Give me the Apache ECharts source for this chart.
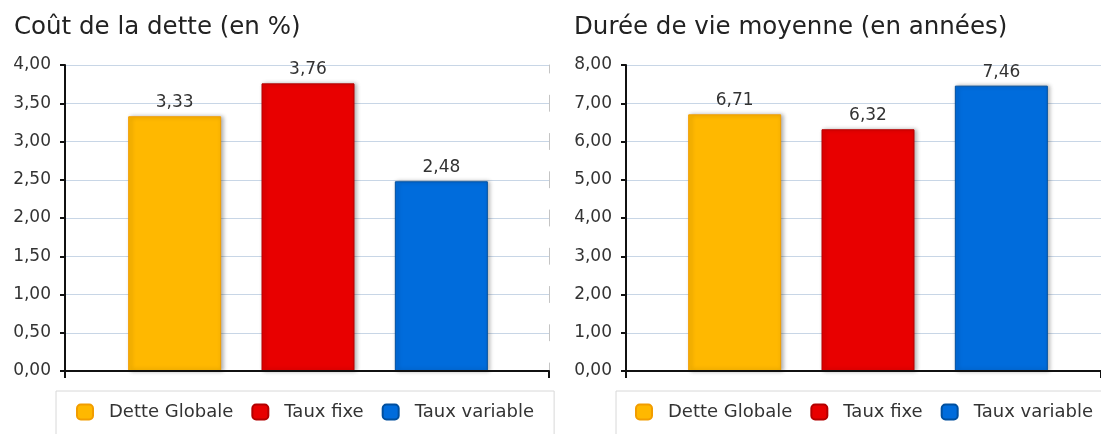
<!DOCTYPE html>
<html>
<head>
<meta charset="utf-8">
<script src="https://cdn.jsdelivr.net/npm/echarts@6/dist/echarts.min.js"></script>
<style>
  body { margin: 0; background: #fff; }
  #main { width: 1101px; height: 434px; }
</style>
</head>
<body>
<div id="main"></div>
<script>
var categories = ['Dette Globale', 'Taux fixe', 'Taux variable'];
var coutDette = [3.33, 3.76, 2.48];      // en %
var dureeVie = [6.71, 6.32, 7.46];       // en années
var titles = ['Coût de la dette (en %)', 'Durée de vie moyenne (en années)'];

var fills = ['#ffb800', '#e80000', '#006cdc'];
var borders = ['#f29d00', '#b30000', '#004f9e'];
var font = 'DejaVu Sans';

function fr(v) {
    return v.toFixed(2).replace('.', ',');
}

// one series per category, the others are empty so that bars stay centred
function makeSeries(values, xIdx, yIdx) {
    var out = [];
    for (var i = 0; i < categories.length; i++) {
        var data = [];
        for (var j = 0; j < values.length; j++) {
            data.push(j === i ? values[j] : '-');
        }
        out.push({
            name: categories[i],
            type: 'bar',
            xAxisIndex: xIdx,
            yAxisIndex: yIdx,
            data: data,
            barWidth: 93,
            barGap: '-100%',
            itemStyle: {
                color: fills[i],
                borderColor: borders[i],
                borderWidth: 1,
                shadowColor: 'rgba(0,0,0,0.3)',
                shadowBlur: 4,
                shadowOffsetX: 2
            },
            label: {
                show: true,
                position: 'top',
                distance: 5,
                color: '#333',
                fontFamily: font,
                fontSize: 17,
                formatter: function (p) { return fr(p.value); }
            }
        });
    }
    return out;
}

function frameYAxis(grid, max, step) {
    return {
        gridIndex: grid,
        type: 'value',
        min: 0,
        max: max,
        interval: step,
        axisLine: { show: true, lineStyle: { color: '#111', width: 2 } },
        axisTick: { show: true, length: 5, lineStyle: { color: '#111', width: 2 } },
        axisLabel: {
            margin: 14,
            color: '#333',
            fontFamily: font,
            fontSize: 17,
            formatter: fr
        },
        splitLine: { show: true, lineStyle: { color: '#c8d6e6', width: 1 } }
    };
}

function frameXAxis(grid) {
    return {
        gridIndex: grid,
        type: 'category',
        data: [''],
        z: 5,
        axisLine: { show: true, lineStyle: { color: '#111', width: 2 } },
        axisTick: { show: true, length: 7, lineStyle: { color: '#111', width: 2 } },
        axisLabel: { show: false },
        splitLine: { show: false }
    };
}

function legendBox(left, padLeft) {
    return {
        left: left,
        top: 391,
        width: 520,
        orient: 'horizontal',
        padding: [12, 20, 40, padLeft],
        itemGap: 18,
        itemWidth: 16,
        itemHeight: 15,
        borderColor: '#d8d8d8',
        borderWidth: 1,
        backgroundColor: '#fff',
        icon: 'roundRect',
        data: categories,
        selectedMode: false,
        textStyle: {
            color: '#333',
            fontFamily: font,
            fontSize: 18,
            padding: [0, 0, 0, 11]
        }
    };
}

var titleStyle = { fontFamily: font, fontSize: 24.5, fontWeight: 'normal', color: '#222' };

var option = {
    animation: false,
    backgroundColor: '#fff',
    title: [
        { text: titles[0], left: 9, top: 10, textStyle: titleStyle },
        { text: titles[1], left: 569, top: 10, textStyle: titleStyle }
    ],
    legend: [legendBox(56, 20), legendBox(616, 19)],
    grid: [
        { left: 65, top: 65, width: 484, height: 306 },
        { left: 108, top: 65, width: 400, height: 306 },
        { left: 626, top: 65, width: 486, height: 306 },
        { left: 668, top: 65, width: 400, height: 306 }
    ],
    xAxis: [
        frameXAxis(0),
        { gridIndex: 1, type: 'category', data: categories, show: false },
        frameXAxis(2),
        { gridIndex: 3, type: 'category', data: categories, show: false }
    ],
    yAxis: [
        frameYAxis(0, 4, 0.5),
        {
            gridIndex: 0, type: 'value', position: 'right', min: 0, max: 4, interval: 0.5,
            axisLine: { show: true, lineStyle: { color: '#c4c4c4', width: 1, type: [16, 22.25], dashOffset: 8 } },
            axisTick: { show: false }, axisLabel: { show: false }, splitLine: { show: false }
        },
        { gridIndex: 1, type: 'value', min: 0, max: 4, show: false },
        frameYAxis(2, 8, 1),
        { gridIndex: 3, type: 'value', min: 0, max: 8, show: false }
    ],
    series: makeSeries(coutDette, 1, 2).concat(makeSeries(dureeVie, 3, 4))
};

var myChart = echarts.init(document.getElementById('main'));
myChart.setOption(option);
</script>
</body>
</html>
